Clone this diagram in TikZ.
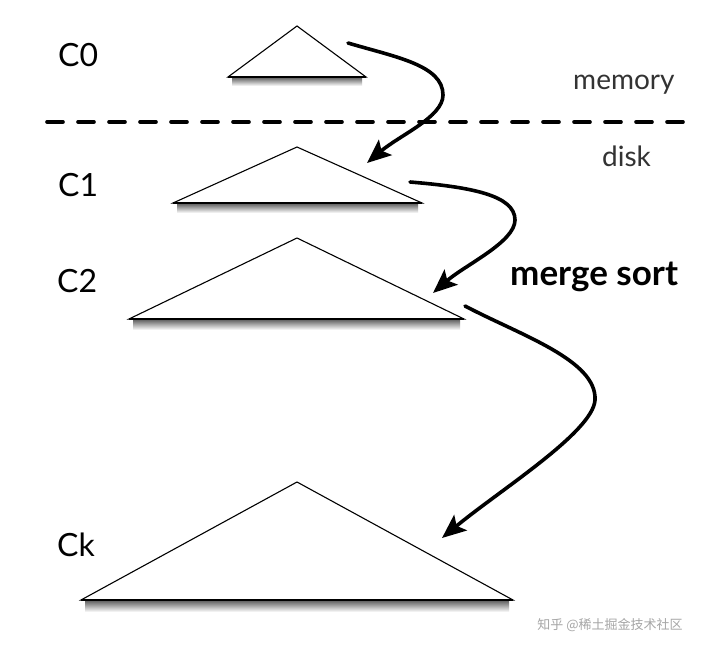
\documentclass[tikz,border=0pt]{standalone}
\usepackage{fontspec}
\setmainfont{Lato}
\newfontfamily\cjkfont{Noto Sans CJK SC}
\usetikzlibrary{arrows.meta}
\begin{document}
\begin{tikzpicture}[x=1pt,y=-1pt,
  tri/.style={draw=black, fill=white, line width=1.1pt, line join=miter},
  base/.style={line width=2pt},
  shadowbar/.style={top color=black!65, bottom color=white, draw=none},
  flow/.style={line width=3.6pt, line cap=round, -{Stealth[length=24pt,width=20pt,inset=5pt]}},
  lvl/.style={anchor=base west, inner sep=0pt, font=\fontsize{32}{32}\selectfont},
  side/.style={anchor=base west, inner sep=0pt, text=black!80, font=\fontsize{28}{28}\selectfont},
  ms/.style={anchor=base west, inner sep=0pt, font=\bfseries\fontsize{35}{35}\selectfont},
  wm/.style={anchor=center, inner sep=0pt, text=black!35, font=\cjkfont\fontsize{13}{13}\selectfont},
  sep/.style={line width=3.6pt, dash pattern=on 16pt off 15pt, line cap=round}
]
\useasboundingbox (0,0) rectangle (703,652);
\fill[white] (0,0) rectangle (703,652);

% shadows
\shade[shadowbar] (232,77) rectangle (362,86);
\shade[shadowbar] (177,203) rectangle (418,213);
\shade[shadowbar] (133,319) rectangle (460,330);
\shade[shadowbar] (85,600) rectangle (509,612);

% triangles
\draw[tri] (228,77) coordinate (c0l) -- (297,26) coordinate (c0t) -- (366,77) coordinate (c0r) -- cycle;
\draw[base] (c0l) -- (c0r);
\draw[tri] (173,203) coordinate (c1l) -- (297,147) coordinate (c1t) -- (422,203) coordinate (c1r) -- cycle;
\draw[base] (c1l) -- (c1r);
\draw[tri] (129,319) coordinate (c2l) -- (297,238) coordinate (c2t) -- (464,319) coordinate (c2r) -- cycle;
\draw[base] (c2l) -- (c2r);
\draw[tri] (81,600) coordinate (ckl) -- (297,482) coordinate (ckt) -- (513,600) coordinate (ckr) -- cycle;
\draw[base] (ckl) -- (ckr);

% separator
\coordinate (sepl) at (47,122);
\coordinate (sepr) at (695,122);
\draw[sep] (sepl) -- (sepr);

% labels
\node[lvl] (l0) at (58,67) {C0};
\node[lvl] (l1) at (58,197) {C1};
\node[lvl] (l2) at (57,292) {C2};
\node[lvl] (lk) at (57,556) {Ck};
\node[side] (mem) at (573,90) {memory};
\node[side] (dsk) at (602,167) {disk};
\node[ms] (msort) at (510,285) {merge sort};
\node[wm] (wmk) at (610,625) {知乎 @稀土掘金技术社区};

% arrows
\coordinate (a1s) at (348,43);
\coordinate (a1e) at (367,163);
\coordinate (a2s) at (410,182);
\coordinate (a2e) at (433,293);
\coordinate (a3s) at (465,306);
\coordinate (a3e) at (442,538);
\draw[flow] (a1s) .. controls (395,57) and (443,65) .. (443,95)
  .. controls (443,117) and (400,135) .. (a1e);
\draw[flow] (a2s) .. controls (470,187) and (515,195) .. (515,220)
  .. controls (515,242) and (465,265) .. (a2e);
\draw[flow] (a3s) .. controls (520,335) and (597,360) .. (595,400)
  .. controls (593,432) and (500,490) .. (a3e);
\end{tikzpicture}
\end{document}
